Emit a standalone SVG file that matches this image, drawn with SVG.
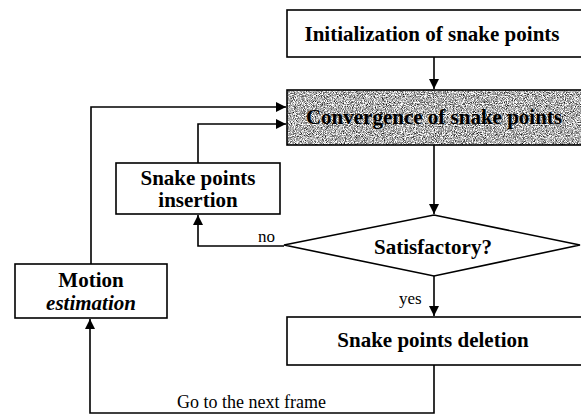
<svg xmlns="http://www.w3.org/2000/svg" width="581" height="415" viewBox="0 0 581 415">
<defs>
<marker id="ah" viewBox="0 0 10 10" refX="10" refY="5" markerWidth="10" markerHeight="10" markerUnits="userSpaceOnUse" orient="auto">
<path d="M0,0 L10,5 L0,10 Z" fill="#000"/>
</marker>
<filter id="noise" x="0" y="0" width="100%" height="100%" color-interpolation-filters="sRGB">
<feTurbulence type="fractalNoise" baseFrequency="1.1" numOctaves="2" seed="5"/>
<feColorMatrix type="matrix" values="1.9 0 0 0 -0.26  1.9 0 0 0 -0.26  1.9 0 0 0 -0.26  0 0 0 0 1"/>
</filter>
</defs>
<style>
.box{fill:#fff;stroke:#000;stroke-width:1.6}
.t{font-family:"Liberation Serif","Times New Roman",serif;font-weight:bold;font-size:21px;fill:#000;text-anchor:middle}
.s{font-family:"Liberation Serif","Times New Roman",serif;font-size:17px;fill:#000}
.c{fill:none;stroke:#000;stroke-width:1.6}
</style>
<g id="init">
<rect class="box" x="287" y="10" width="300" height="47"/>
<text class="t" x="432" y="41">Initialization of snake points</text>
</g>
<g id="convergence">
<rect x="287" y="90" width="294" height="55" fill="#aaa" filter="url(#noise)"/>
<rect x="287" y="90" width="300" height="55" fill="none" stroke="#000" stroke-width="1.6"/>
<text class="t" x="434" y="124">Convergence of snake points</text>
</g>
<g id="satisfactory">
<polygon class="box" points="284,245 434,215 580,245 434,276"/>
<text class="t" x="433" y="254">Satisfactory?</text>
</g>
<g id="insertion">
<rect class="box" x="116" y="163" width="164" height="51"/>
<text class="t" x="198" y="185">Snake points</text>
<text class="t" x="198" y="207">insertion</text>
</g>
<g id="deletion">
<rect class="box" x="287" y="317" width="300" height="48"/>
<text class="t" x="433" y="347">Snake points deletion</text>
</g>
<g id="motion">
<rect class="box" x="15" y="264" width="152" height="54"/>
<text class="t" x="91" y="287">Motion</text>
<text class="t" x="91" y="310" style="font-style:italic">estimation</text>
</g>
<g id="connectors">
<line class="c" x1="434" y1="57" x2="434" y2="89" marker-end="url(#ah)"/>
<line class="c" x1="434" y1="145" x2="434" y2="214" marker-end="url(#ah)"/>
<line class="c" x1="434" y1="276" x2="434" y2="316" marker-end="url(#ah)"/>
<polyline class="c" points="284,246 198,246 198,215" marker-end="url(#ah)"/>
<polyline class="c" points="198,163 198,124 286,124" marker-end="url(#ah)"/>
<polyline class="c" points="91,264 91,107 286,107" marker-end="url(#ah)"/>
<polyline class="c" points="434,365 434,413 90,413 90,319" marker-end="url(#ah)"/>
<text class="s" x="258" y="242">no</text>
<text class="s" x="399" y="304">yes</text>
<text class="s" x="177" y="408" style="font-size:18px">Go to the next frame</text>
</g>
</svg>
